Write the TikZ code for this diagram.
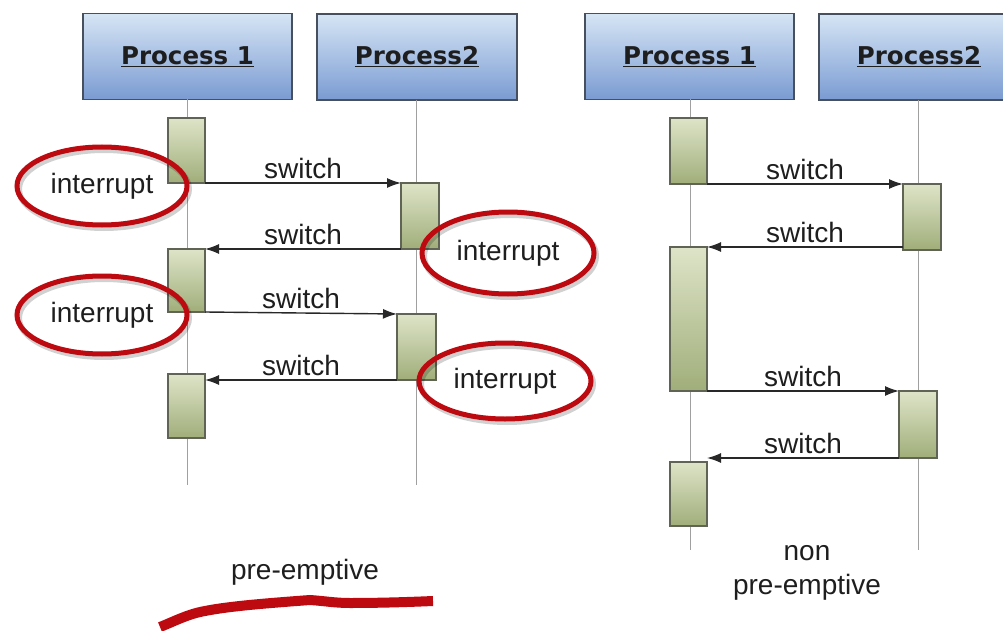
\documentclass[tikz,border=0pt]{standalone}
\usepackage{fontspec}
\setmainfont{Liberation Sans}
\newfontfamily\titlefont{DejaVu Sans}
\usetikzlibrary{arrows.meta,shapes.geometric,calc}
\definecolor{boxtop}{RGB}{214,229,245}
\definecolor{boxbot}{RGB}{122,155,210}
\definecolor{boxedge}{RGB}{70,80,95}
\definecolor{acttop}{RGB}{222,228,200}
\definecolor{actbot}{RGB}{160,174,122}
\definecolor{actedge}{RGB}{95,100,85}
\definecolor{redmark}{RGB}{188,10,16}
\definecolor{life}{RGB}{160,160,160}
\definecolor{msg}{RGB}{40,40,40}
\definecolor{ink}{RGB}{30,30,30}
\tikzset{
  procbox/.style={draw=boxedge, line width=1.4pt, top color=boxtop, bottom color=boxbot,
    minimum height=86pt, inner sep=0pt, outer sep=0pt, text=ink,
    font=\titlefont\bfseries\fontsize{24.5}{26}\selectfont},
  actbox/.style={draw=actedge, line width=1.2pt, top color=acttop, bottom color=actbot,
    minimum width=37pt, inner sep=0pt, outer sep=0pt, anchor=north west},
  lifeline/.style={draw=life, line width=1pt},
  msgline/.style={draw=msg, line width=1.4pt, -{Latex[length=14pt,width=10pt]}},
  msglabel/.style={font=\fontsize{28}{30}\selectfont, text=ink, inner sep=1pt, above=3pt, midway},
  ring/.style={ellipse, draw=redmark, line width=5pt, minimum width=170pt, minimum height=78pt,
    inner sep=0pt, text=ink, font=\fontsize{28}{30}\selectfont},
  ringshadow/.style={ellipse, draw=black, draw opacity=0.18, line width=6pt, inner sep=0pt},
  caption/.style={font=\fontsize{28}{30}\selectfont, text=ink, inner sep=0pt}
}
\begin{document}
\begin{tikzpicture}[x=1pt,y=-1pt]
\useasboundingbox (0,0) rectangle (1003,631);
\fill[white] (0,0) rectangle (1003,631);

% ---------- left: pre-emptive ----------
\node[procbox, minimum width=209pt] (lp1) at (187.5,56.5) {\underline{Process 1}};
\node[procbox, minimum width=200pt] (lp2) at (417,57) {\underline{Process2}};
\coordinate (lend1) at (187,485);
\coordinate (lend2) at (416,485);
\draw[lifeline] (lp1.south -| lend1) -- (lend1);
\draw[lifeline] (lp2.south -| lend2) -- (lend2);

\node[actbox, minimum height=65pt] (a1) at (168,118) {};
\node[actbox, minimum width=38pt, minimum height=66pt] (a2) at (401,183) {};
\node[actbox, minimum height=63pt] (a3) at (168,249) {};
\node[actbox, minimum width=39pt, minimum height=66pt] (a4) at (397,314) {};
\node[actbox, minimum height=64pt] (a5) at (168,374) {};

\draw[msgline] (a1.south east) -- node[msglabel] {switch} (a2.north west);
\draw[msgline] (a2.south west) -- node[msglabel] {switch} (a3.north east);
\draw[msgline] (a3.south east) -- node[msglabel] {switch} (a4.north west);
\draw[msgline] (a4.south west) -- node[msglabel] {switch} (a5.east |- a4.south west);

\node[ringshadow, minimum width=170pt, minimum height=78pt] (s1) at (104,189) {};
\node[ringshadow, minimum width=170pt, minimum height=78pt] (s2) at (104,318) {};
\node[ringshadow, minimum width=172pt, minimum height=82pt] (s3) at (510,256) {};
\node[ringshadow, minimum width=172pt, minimum height=76pt] (s4) at (507,384) {};
\node[ring] (i1) at (102,186) {interrupt};
\node[ring] (i2) at (102,315) {interrupt};
\node[ring, minimum width=172pt, minimum height=82pt] (i3) at (508,253) {interrupt};
\node[ring, minimum width=172pt, minimum height=76pt] (i4) at (505,381) {interrupt};

\node[caption] (cap1) at (305,572) {pre-emptive};
\draw[redmark, line width=10pt] (160,627) .. controls (175,621) and (188,614) .. (205,611)
  .. controls (230,606) and (270,603) .. (310,600)
  .. controls (325,601) and (335,603) .. (350,603)
  .. controls (380,603) and (410,602) .. (433,601);

% ---------- right: non pre-emptive ----------
\node[procbox, minimum width=209pt] (rp1) at (689.5,56.5) {\underline{Process 1}};
\begin{scope}
\clip (810,0) rectangle (1003,120);
\node[procbox, minimum width=200pt] (rp2) at (919,57) {\underline{Process2}};
\end{scope}
\coordinate (rend1) at (690,550);
\coordinate (rend2) at (918,550);
\draw[lifeline] (rp1.south -| rend1) -- (rend1);
\draw[lifeline] (rp2.south -| rend2) -- (rend2);

\node[actbox, minimum height=66pt] (b1) at (670,118) {};
\node[actbox, minimum width=38pt, minimum height=66pt] (b2) at (903,184) {};
\node[actbox, minimum height=144pt] (b3) at (670,247) {};
\node[actbox, minimum width=38pt, minimum height=67pt] (b4) at (899,391) {};
\node[actbox, minimum height=64pt] (b5) at (670,462) {};

\draw[msgline] (b1.south east) -- node[msglabel] {switch} (b2.north west);
\draw[msgline] (b2.west |- b3.north east) -- node[msglabel] {switch} (b3.north east);
\draw[msgline] (b3.south east) -- node[msglabel] {switch} (b4.north west);
\draw[msgline] (b4.south west) -- node[msglabel] {switch} (b5.east |- b4.south west);

\node[caption, align=center] (cap2) at (807,573) {non\\[4pt]pre-emptive};
\end{tikzpicture}
\end{document}
